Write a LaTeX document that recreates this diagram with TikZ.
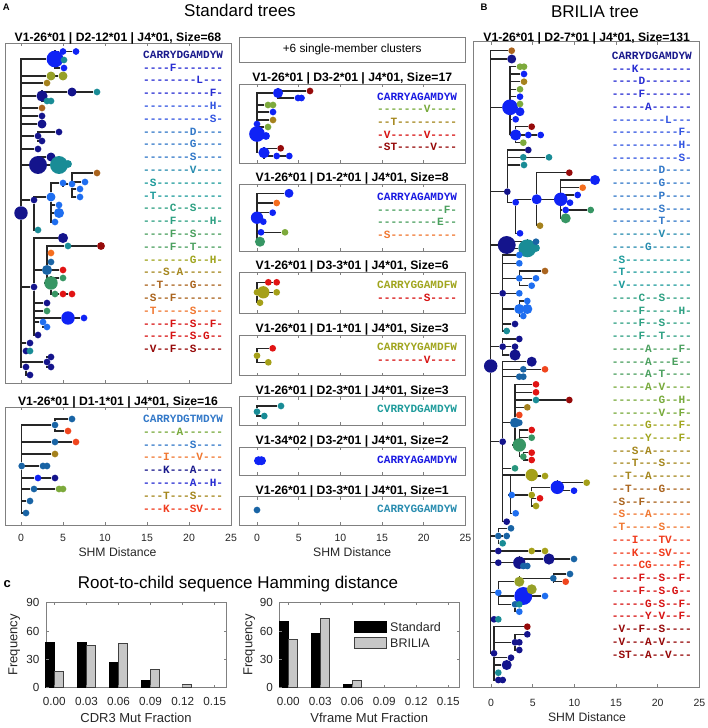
\documentclass[tikz,border=0pt]{standalone}
\usepackage{fontspec}
\setmainfont{Liberation Sans}
\setmonofont{Liberation Mono}
\usetikzlibrary{backgrounds}

% dot colours
\definecolor{cNavy}{RGB}{20,20,140}
\definecolor{cBlue}{RGB}{15,35,245}
\definecolor{cLblue}{RGB}{30,110,240}
\definecolor{cSteel}{RGB}{25,100,165}
\definecolor{cTeal}{RGB}{25,140,150}
\definecolor{cTealg}{RGB}{40,150,125}
\definecolor{cGreen}{RGB}{55,150,100}
\definecolor{cYgreen}{RGB}{125,170,60}
\definecolor{cOliveg}{RGB}{150,160,40}
\definecolor{cOlive}{RGB}{165,160,25}
\definecolor{cGold}{RGB}{165,130,30}
\definecolor{cBrown}{RGB}{170,100,30}
\definecolor{cOrange}{RGB}{245,110,30}
\definecolor{cOrred}{RGB}{240,70,30}
\definecolor{cRed}{RGB}{225,20,20}
\definecolor{cDred}{RGB}{150,10,10}
% sequence colours
\definecolor{t1}{RGB}{25,25,140}
\definecolor{tb}{RGB}{25,25,225}
\definecolor{t2}{RGB}{40,45,210}
\definecolor{t3}{RGB}{50,85,225}
\definecolor{t4}{RGB}{50,120,200}
\definecolor{t5}{RGB}{40,140,175}
\definecolor{t6}{RGB}{30,155,155}
\definecolor{t7}{RGB}{45,160,130}
\definecolor{t8}{RGB}{75,160,95}
\definecolor{t9}{RGB}{120,170,60}
\definecolor{t10}{RGB}{160,165,30}
\definecolor{t11}{RGB}{165,135,30}
\definecolor{t12}{RGB}{170,100,30}
\definecolor{t13}{RGB}{240,120,50}
\definecolor{t14}{RGB}{240,60,30}
\definecolor{t15}{RGB}{215,20,20}
\definecolor{t16}{RGB}{150,10,10}

\begin{document}
\begin{tikzpicture}[
    x=1pt, y=-1pt,
    panel/.style={draw=black!50, line width=0.7pt},
    hdr/.style={anchor=base, inner sep=0pt, font=\fontsize{12.2}{14}\selectfont\bfseries},
    seqtxt/.style={anchor=base west, inner sep=0pt, font=\fontsize{11.1}{13}\selectfont\ttfamily\bfseries},
    dot/.style={circle, inner sep=0pt, minimum size=#1*1.12},
    link/.style={draw=black!85, line width=1.1pt},
    ticklbl/.style={anchor=base, inner sep=0pt, font=\fontsize{10.5}{12}\selectfont, text=black!85},
    axlbl/.style={anchor=base, inner sep=0pt, font=\fontsize{12.2}{14}\selectfont, text=black!85},
    hticklbl/.style={anchor=base, inner sep=0pt, font=\fontsize{11.7}{13}\selectfont, text=black!85},
    hlbl/.style={anchor=base, inner sep=0pt, font=\fontsize{13}{15}\selectfont, text=black!85},
    ttl/.style={anchor=base, inner sep=0pt, font=\fontsize{17}{20}\selectfont},
    letter/.style={anchor=base west, inner sep=0pt, font=\fontsize{9.5}{11}\selectfont\bfseries},
    barstd/.style={fill=black, draw=black, line width=0.5pt},
    barbri/.style={fill=black!22, draw=black!75, line width=0.5pt}
]
\useasboundingbox (0,0) rectangle (708,728);

% Panel letters and titles
\node[letter] (lbl-a) at (2.7,10.7) {A};
\node[letter] (lbl-b) at (480.5,10) {B};
\node[letter, font=\fontsize{13}{15}\selectfont\bfseries] (lbl-c) at (3.5,587.3) {c};
\node[ttl] (ttl-std) at (240,16.7) {Standard trees};
\node[ttl] (ttl-bri) at (595,17.3) {BRILIA tree};
\node[ttl] (ttl-ham) at (238,588.3) {Root-to-child sequence Hamming distance};

% Tree boxes with ticks
\foreach \lft/\tp/\rt/\bt/\zr/\st in {5/43.3/231/383/21/42, 5/407.3/231/525/21/42,
    239/84.3/465.5/163/257/41.67, 239/184.3/465.5/251/257/41.67, 239/272.3/465.5/313.3/257/41.67,
    239/335/465.5/375.7/257/41.67, 239/396.7/465.5/425/257/41.67, 239/447.3/465.5/475/257/41.67,
    239/496.7/465.5/525/257/41.67, 473.3/41.7/699.3/687.3/491/41.67}
{
    \draw[panel] (\lft,\tp) rectangle (\rt,\bt);
    \foreach \k in {0,...,4}
    {
        \draw[panel] ({\zr+\st*\k},\tp) -- ++(0,3);
        \draw[panel] ({\zr+\st*\k},\bt) -- ++(0,-3);
    }
}
\node[draw=black!50, line width=0.7pt, minimum width=226.5, minimum height=25,
    font=\fontsize{11.8}{13}\selectfont] (singles) at (352.2,49.8) {+6 single-member clusters};

% Tree headers
\node[hdr] (hd-a1) at (118,41.3) {V1-26*01 | D2-12*01 | J4*01, Size=68};
\node[hdr] (hd-a2) at (118,405) {V1-26*01 | D1-1*01 | J4*01, Size=16};
\node[hdr] (hd-m1) at (352.2,81.7) {V1-26*01 | D3-2*01 | J4*01, Size=17};
\node[hdr] (hd-m2) at (352.2,181.7) {V1-26*01 | D1-2*01 | J4*01, Size=8};
\node[hdr] (hd-m3) at (352.2,269.7) {V1-26*01 | D3-3*01 | J4*01, Size=6};
\node[hdr] (hd-m4) at (352.2,332.3) {V1-26*01 | D1-1*01 | J4*01, Size=3};
\node[hdr] (hd-m5) at (352.2,394.3) {V1-26*01 | D2-3*01 | J4*01, Size=3};
\node[hdr] (hd-m6) at (352.2,444) {V1-34*02 | D3-2*01 | J4*01, Size=2};
\node[hdr] (hd-m7) at (352.2,494) {V1-26*01 | D3-3*01 | J4*01, Size=1};
\node[hdr] (hd-b) at (586.7,41.3) {V1-26*01 | D2-7*01 | J4*01, Size=131};

% Axis tick labels and axis names
\foreach \zr/\st/\yb/\nm in {21/42/541.7/a, 257/41.67/541.7/m, 491/41.67/706.7/b}
    \foreach \v [count=\k from 0] in {0,5,10,15,20,25}
        \node[ticklbl] (tk-\nm\k) at ({\zr+\st*\k},\yb) {\v};
\node[axlbl] (shm-a) at (117.5,556.7) {SHM Distance};
\node[axlbl] (shm-m) at (352.2,556.7) {SHM Distance};
\node[axlbl] (shm-b) at (587,721.7) {SHM Distance};

% Sequences, standard tree Size=68
\foreach \s/\c [count=\i from 0] in {CARRYDGAMDYW/t1, ----F-------/t2, --------L---/t2,
    ----------F-/t2, ----------H-/t3, ----------S-/t3, -------D----/t4, -------G----/t4,
    -------S----/t4, -------V----/t5, -S----------/t6, -T----------/t6, ----C--S----/t7,
    ----F-----H-/t7, ----F--S----/t8, ----F--T----/t8, -------G--H-/t10, ---S-A------/t11,
    --T----G----/t12, -S--F-------/t12, -T-----S----/t13, ----F--S--F-/t15,
    ----F--S-G--/t15, -V--F--S----/t16}
    \node[seqtxt, text=\c] (sqa\i) at (143,{58.3+12.8*\i}) {\s};

% Sequences, standard tree Size=16
\foreach \s/\c [count=\i from 0] in {CARRYDGTMDYW/t4, -----A------/t9, -------S----/t4,
    ---I----V---/t13, ---K---A----/t1, -------A--H-/t2, ---T---S----/t11, ---K---SV---/t14}
    \node[seqtxt, text=\c] (sqb\i) at (143,{422.3+12.86*\i}) {\s};

% Sequences, small clusters
\foreach \s/\c [count=\i from 0] in {CARRYAGAMDYW/tb, -------V----/t9, --T---------/t11,
    -V-----V----/t15, -ST-----V---/t16}
    \node[seqtxt, text=\c] (sqc\i) at (377,{100+12.7*\i}) {\s};
\foreach \s/\c [count=\i from 0] in {CARRYAGAMDYW/tb, ----------F-/t8, ---------E--/t8,
    -S----------/t13}
    \node[seqtxt, text=\c] (sqd\i) at (377,{200.3+12.7*\i}) {\s};
\node[seqtxt, text=t10] (sqe0) at (377,288.3) {CARRYGGAMDFW};
\node[seqtxt, text=t15] (sqe1) at (377,301) {-------S----};
\node[seqtxt, text=t10] (sqf0) at (377,350.6) {CARRYYGAMDFW};
\node[seqtxt, text=t15] (sqf1) at (377,363.3) {-------V----};
\node[seqtxt, text=t6] (sqg0) at (377,412.6) {CVRRYDGAMDYW};
\node[seqtxt, text=tb] (sqh0) at (377,463.3) {CARRYAGAMDYW};
\node[seqtxt, text=t5] (sqk0) at (377,512.3) {CARRYGGAMDYW};

% Sequences, BRILIA tree
\foreach \s/\c [count=\i from 0] in {CARRYDGAMDYW/t1, ---K--------/t2, ----D-------/t2,
    ----F-------/t2, -----A------/t2, --------L---/t3, ----------F-/t3, ----------H-/t3,
    ----------S-/t3, -------D----/t4, -------G----/t4, -------P----/t4, -------S----/t4,
    -------T----/t4, -------V----/t5, -----G------/t5, -S----------/t6, -T----------/t6,
    -V----------/t6, ----C--S----/t7, ----F-----H-/t7, ----F--S----/t7, ----F--T----/t7,
    -----A----F-/t8, -----A---E--/t8, -----A-T----/t8, -----A-V----/t9, -------G--H-/t9,
    -------V--F-/t9, -----G----F-/t10, -----Y----F-/t10, ---S-A------/t11, ---T---S----/t11,
    --T--A------/t11, --T----G----/t12, -S--F-------/t12, -S---A------/t13, -T-----S----/t13,
    ---I---TV---/t14, ---K---SV---/t14, ----CG----F-/t14, ----F--S--F-/t15, ----F--S-G--/t15,
    -----G-S--F-/t15, -----Y-V--F-/t15, -V--F--S----/t16, -V---A-V----/t16, -ST--A--V---/t16}
    \node[seqtxt, text=\c] (sqp\i) at (611.7,{59.3+12.74*\i}) {\s};

% Standard tree Size=68
\node[dot=12, fill=cNavy] (ar) at (21,213) {};
\node[dot=15, fill=cBlue] (a1) at (55,59) {};
\node[dot=6, fill=cBlue] (a2) at (63,51.5) {};
\node[dot=6, fill=cBlue] (a3) at (76,51.5) {};
\node[dot=6, fill=cTeal] (a4) at (64,60) {};
\node[dot=6, fill=cBlue] (a5) at (64,68) {};
\node[dot=8, fill=cOliveg] (a6) at (51,76) {};
\node[dot=8, fill=cOliveg] (a7) at (63,76) {};
\node[dot=6, fill=cGold] (a8) at (47,83) {};
\node[dot=10, fill=cNavy] (a9) at (42,96) {};
\node[dot=8, fill=cNavy] (a10) at (72,92) {};
\node[dot=6, fill=cTeal] (a11) at (97,92) {};
\node[dot=6, fill=cTeal] (a12) at (47,101) {};
\node[dot=6, fill=cTeal] (a13) at (51,101) {};
\node[dot=6, fill=cBrown] (a14) at (42,108) {};
\node[dot=6, fill=cNavy] (a15) at (42,116) {};
\node[dot=8, fill=cNavy] (a16) at (42,124) {};
\node[dot=6, fill=cNavy] (a17) at (38,136) {};
\node[dot=6, fill=cNavy] (a18) at (59,132) {};
\node[dot=6, fill=cNavy] (a19) at (42,141) {};
\node[dot=6, fill=cNavy] (a20) at (38,149) {};
\node[dot=16, fill=cNavy] (a21) at (38,165) {};
\node[dot=8, fill=cNavy] (a22) at (51,157) {};
\node[dot=16, fill=cTeal] (a23) at (59,165) {};
\node[dot=7, fill=cTeal] (a24) at (68,164) {};
\node[dot=6, fill=cNavy] (a25) at (34,200) {};
\node[dot=8, fill=cLblue] (a26) at (51,197) {};
\node[dot=6, fill=cLblue] (a27) at (63,183) {};
\node[dot=6, fill=cLblue] (a28) at (72,184) {};
\node[dot=6, fill=cLblue] (a29) at (85,182) {};
\node[dot=6, fill=cBrown] (a30) at (97,173) {};
\node[dot=6, fill=cLblue] (a31) at (80,189) {};
\node[dot=6, fill=cLblue] (a32) at (80,197) {};
\node[dot=6, fill=cLblue] (a33) at (59,205) {};
\node[dot=9, fill=cLblue] (a34) at (59,213) {};
\node[dot=6, fill=cLblue] (a35) at (55,222) {};
\node[dot=6, fill=cTeal] (a36) at (38,230) {};
\node[dot=6, fill=cNavy] (a37) at (34,287) {};
\node[dot=9, fill=cNavy] (a38) at (63,238) {};
\node[dot=9, fill=cSteel] (a39) at (47,270) {};
\node[dot=6, fill=cTeal] (a40) at (68,246) {};
\node[dot=7, fill=cDred] (a41) at (101,246) {};
\node[dot=6, fill=cOrange] (a42) at (51,253) {};
\node[dot=6, fill=cSteel] (a43) at (51,262) {};
\node[dot=6, fill=cRed] (a44) at (63,270) {};
\node[dot=12, fill=cGreen] (a45) at (51,283) {};
\node[dot=6, fill=cGreen] (a46) at (63,278) {};
\node[dot=6, fill=cGreen] (a47) at (55,294) {};
\node[dot=6, fill=cRed] (a48) at (63,294) {};
\node[dot=6, fill=cRed] (a49) at (72,294) {};
\node[dot=6, fill=cNavy] (a50) at (47,303) {};
\node[dot=6, fill=cGreen] (a51) at (47,311) {};
\node[dot=12, fill=cBlue] (a52) at (68,318) {};
\node[dot=6, fill=cBlue] (a53) at (84,318) {};
\node[dot=6, fill=cLblue] (a54) at (43,322) {};
\node[dot=6, fill=cLblue] (a55) at (47,327) {};
\node[dot=6, fill=cNavy] (a56) at (38,335) {};
\node[dot=6, fill=cNavy] (a57) at (30,343) {};
\node[dot=6, fill=cNavy] (a58) at (26,351) {};
\node[dot=6, fill=cTeal] (a59) at (30,351) {};
\node[dot=6, fill=cNavy] (a60) at (47,362) {};
\node[dot=6, fill=cNavy] (a61) at (51,357) {};
\node[dot=6, fill=cNavy] (a62) at (51,367) {};
\node[dot=6, fill=cNavy] (a63) at (26,367) {};
\node[dot=6, fill=cNavy] (a64) at (30,375) {};

% Standard tree Size=16
\node[dot=6, fill=cSteel] (br) at (21.7,466) {};
\node[dot=6, fill=cSteel] (b1) at (55,425) {};
\node[dot=6, fill=cSteel] (b2) at (72,419) {};
\node[dot=6, fill=cOrred] (b3) at (68,431) {};
\node[dot=6, fill=cSteel] (b4) at (55,442) {};
\node[dot=6, fill=cOrred] (b5) at (76,442) {};
\node[dot=6, fill=cGold] (b6) at (55,454) {};
\node[dot=6, fill=cSteel] (b7) at (43,466) {};
\node[dot=6, fill=cSteel] (b8) at (47,466) {};
\node[dot=6, fill=cBlue] (b9) at (38,478) {};
\node[dot=6, fill=cNavy] (b10) at (55,478) {};
\node[dot=6, fill=cSteel] (b11) at (34,489) {};
\node[dot=6, fill=cYgreen] (b12) at (59,489) {};
\node[dot=6, fill=cYgreen] (b13) at (63,489) {};
\node[dot=6, fill=cSteel] (b14) at (30,501) {};
\node[dot=6, fill=cSteel] (b15) at (26,513) {};

% Small cluster trees
\node[dot=14, fill=cBlue] (cr) at (257,134) {};
\node[dot=9, fill=cBlue] (c1) at (278,93) {};
\node[dot=6, fill=cDred] (c2) at (310,91) {};
\node[dot=6, fill=cBlue] (c3) at (298,98) {};
\node[dot=6, fill=cBlue] (c4) at (301.5,98) {};
\node[dot=6, fill=cYgreen] (c5) at (268,105) {};
\node[dot=6, fill=cYgreen] (c6) at (273,105) {};
\node[dot=6, fill=cBlue] (c7) at (273,112) {};
\node[dot=6, fill=cGold] (c8) at (273,120) {};
\node[dot=6, fill=cBlue] (c9) at (257,124) {};
\node[dot=6, fill=cYgreen] (c10) at (268,127) {};
\node[dot=7, fill=cBlue] (c11) at (266,136) {};
\node[dot=10, fill=cBlue] (c12) at (264,152.7) {};
\node[dot=6, fill=cDred] (c13) at (280.7,148.3) {};
\node[dot=6, fill=cBlue] (c14) at (276.7,156) {};
\node[dot=6, fill=cBlue] (c15) at (289.3,156) {};

\node[dot=11, fill=cBlue] (dr) at (257,217.7) {};
\node[dot=8, fill=cBlue] (d1) at (289,193.3) {};
\node[dot=6, fill=cOrange] (d2) at (276.7,203) {};
\node[dot=6, fill=cBlue] (d3) at (272.7,212.7) {};
\node[dot=6, fill=cBlue] (d4) at (263.3,221.7) {};
\node[dot=6, fill=cBlue] (d5) at (261,232.3) {};
\node[dot=6, fill=cYgreen] (d6) at (285,232.3) {};
\node[dot=9, fill=cGreen] (d7) at (260,241.7) {};

\node[dot=6, fill=cOlive] (e0) at (257,292.3) {};
\node[dot=11, fill=cOlive] (e1) at (263.3,292.3) {};
\node[dot=6, fill=cOlive] (e2) at (276.7,292.3) {};
\node[dot=6, fill=cRed] (e3) at (268.3,282.3) {};
\node[dot=6, fill=cRed] (e4) at (276.7,282.3) {};
\node[dot=6, fill=cOlive] (e5) at (260,302.7) {};

\node[dot=6, fill=cOlive] (f0) at (257,355.7) {};
\node[dot=6, fill=cRed] (f1) at (272.7,348.3) {};
\node[dot=6, fill=cOlive] (f2) at (268.3,362.3) {};

\node[dot=6, fill=cTeal] (g0) at (257,411.7) {};
\node[dot=6, fill=cTeal] (g1) at (281,406) {};
\node[dot=6, fill=cTeal] (g2) at (264.3,416) {};

\node[dot=8, fill=cBlue] (h0) at (258.5,460.7) {};
\node[dot=8, fill=cBlue] (h1) at (261.5,460.7) {};

\node[dot=6, fill=cSteel] (k0) at (257,510) {};

% BRILIA tree
\node[dot=12, fill=cNavy] (pr) at (490.7,366) {};
\node[dot=6, fill=cBrown] (p1) at (511.7,50.7) {};
\node[dot=8, fill=cNavy] (p2) at (511.7,59) {};
\node[dot=14, fill=cBlue] (p3) at (510,107.3) {};
\node[dot=6, fill=cYgreen] (p4) at (520,66.7) {};
\node[dot=6, fill=cYgreen] (p5) at (524,66.7) {};
\node[dot=6, fill=cBlue] (p6) at (524,74) {};
\node[dot=6, fill=cGold] (p7) at (524,81.7) {};
\node[dot=6, fill=cYgreen] (p8) at (520,89.3) {};
\node[dot=6, fill=cBlue] (p9) at (520,96.7) {};
\node[dot=6, fill=cYgreen] (p10) at (520,104) {};
\node[dot=8, fill=cBlue] (p11) at (520,111.7) {};
\node[dot=6, fill=cBlue] (p12) at (515.7,119.3) {};
\node[dot=10, fill=cBlue] (p13) at (515.7,135) {};
\node[dot=6, fill=cDred] (p14) at (531.7,126.7) {};
\node[dot=6, fill=cBlue] (p15) at (528.3,135) {};
\node[dot=6, fill=cBlue] (p16) at (540.7,135) {};
\node[dot=6, fill=cYgreen] (p17) at (523.3,142.7) {};
\node[dot=6, fill=cNavy] (p18) at (507.3,191.7) {};
\node[dot=6, fill=cNavy] (p19) at (528.3,150) {};
\node[dot=6, fill=cTeal] (p20) at (523.3,157.3) {};
\node[dot=6, fill=cTeal] (p21) at (549,157.3) {};
\node[dot=6, fill=cTeal] (p22) at (524,165) {};
\node[dot=6, fill=cBlue] (p23) at (515.7,202.3) {};
\node[dot=6, fill=cBlue] (p24) at (520,233.3) {};
\node[dot=9, fill=cBlue] (p25) at (536.7,199.3) {};
\node[dot=6, fill=cDred] (p26) at (569.3,172.7) {};
\node[dot=6, fill=cGold] (p27) at (540,225.7) {};
\node[dot=12, fill=cBlue] (p28) at (560.7,199.3) {};
\node[dot=9, fill=cBlue] (p29) at (595,180) {};
\node[dot=6, fill=cOrange] (p30) at (582.7,187.7) {};
\node[dot=6, fill=cBlue] (p31) at (577.7,195) {};
\node[dot=6, fill=cBlue] (p32) at (570,202.7) {};
\node[dot=6, fill=cBlue] (p33) at (565.7,210) {};
\node[dot=6, fill=cGreen] (p34) at (590.7,210) {};
\node[dot=9, fill=cGreen] (p35) at (565.7,218.3) {};
\node[dot=16, fill=cNavy] (p36) at (506.7,245) {};
\node[dot=16, fill=cTeal] (p37) at (527.3,248.3) {};
\node[dot=7, fill=cTeal] (p38) at (536,248) {};
\node[dot=6, fill=cSteel] (p39) at (536,241.7) {};
\node[dot=6, fill=cNavy] (p40) at (502.7,293.3) {};
\node[dot=6, fill=cLblue] (p41) at (519.3,255) {};
\node[dot=6, fill=cLblue] (p42) at (519.3,263.3) {};
\node[dot=6, fill=cLblue] (p43) at (519.3,278.3) {};
\node[dot=6, fill=cBrown] (p44) at (545,271) {};
\node[dot=6, fill=cLblue] (p45) at (536,278.3) {};
\node[dot=6, fill=cLblue] (p46) at (531.7,285.7) {};
\node[dot=6, fill=cLblue] (p47) at (519.3,293.3) {};
\node[dot=9, fill=cLblue] (p48) at (519.3,309) {};
\node[dot=9, fill=cLblue] (p49) at (527.3,309) {};
\node[dot=6, fill=cLblue] (p50) at (527.3,301) {};
\node[dot=6, fill=cLblue] (p51) at (523.3,316) {};
\node[dot=6, fill=cNavy] (p52) at (515,324) {};
\node[dot=6, fill=cTeal] (p53) at (506.7,331) {};
\node[dot=6, fill=cNavy] (p54) at (502.7,346.7) {};
\node[dot=6, fill=cNavy] (p55) at (519.3,339) {};
\node[dot=6, fill=cNavy] (p56) at (515,346.7) {};
\node[dot=10, fill=cNavy] (p57) at (515,355) {};
\node[dot=6, fill=cNavy] (p58) at (502.7,441.7) {};
\node[dot=9, fill=cNavy] (p59) at (531.7,361.7) {};
\node[dot=6, fill=cSteel] (p60) at (523.3,369.3) {};
\node[dot=6, fill=cOrred] (p61) at (545,369.3) {};
\node[dot=6, fill=cSteel] (p62) at (519.3,376.7) {};
\node[dot=6, fill=cSteel] (p63) at (523.3,376.7) {};
\node[dot=9, fill=cSteel] (p64) at (515,422.7) {};
\node[dot=6, fill=cRed] (p65) at (536,384.3) {};
\node[dot=6, fill=cRed] (p66) at (536,392.3) {};
\node[dot=6, fill=cTeal] (p67) at (536,400) {};
\node[dot=6, fill=cDred] (p68) at (569.3,400) {};
\node[dot=6, fill=cGold] (p69) at (527.3,407.3) {};
\node[dot=6, fill=cOrred] (p70) at (519.3,415) {};
\node[dot=6, fill=cSteel] (p71) at (519.3,422.7) {};
\node[dot=12, fill=cGreen] (p72) at (519.3,445) {};
\node[dot=6, fill=cRed] (p73) at (531.7,430) {};
\node[dot=6, fill=cGreen] (p74) at (531.7,437.7) {};
\node[dot=6, fill=cGreen] (p75) at (523.3,456.7) {};
\node[dot=6, fill=cRed] (p76) at (531.7,452.7) {};
\node[dot=6, fill=cRed] (p77) at (531.7,460) {};
\node[dot=6, fill=cTealg] (p78) at (515,468.3) {};
\coordinate (q1) at (510.7,475);
\node[dot=11, fill=cOlive] (p80) at (531.7,475) {};
\node[dot=6, fill=cOlive] (p81) at (545,476) {};
\node[dot=6, fill=cOlive] (p82) at (531.7,495) {};
\node[dot=6, fill=cLblue] (p83) at (511.7,495) {};
\node[dot=12, fill=cBlue] (p84) at (557.3,487.3) {};
\node[dot=6, fill=cOlive] (p85) at (586.7,482.7) {};
\node[dot=6, fill=cBlue] (p86) at (574,490.7) {};
\node[dot=6, fill=cRed] (p87) at (540,498.3) {};
\node[dot=6, fill=cOlive] (p88) at (536,506) {};
\node[dot=6, fill=cLblue] (p89) at (515.7,513.3) {};
\node[dot=6, fill=cNavy] (p90) at (506.7,521.7) {};
\node[dot=6, fill=cSteel] (p91) at (498.3,536) {};
\node[dot=6, fill=cSteel] (p92) at (506.7,536) {};
\node[dot=6, fill=cSteel] (p93) at (511,528.3) {};
\node[dot=6, fill=cTeal] (p94) at (502.7,543.3) {};
\node[dot=6, fill=cNavy] (p95) at (498.3,551) {};
\node[dot=6, fill=cOlive] (p96) at (531.7,551) {};
\node[dot=6, fill=cOlive] (p97) at (545,551) {};
\node[dot=6, fill=cNavy] (p98) at (498.3,562.7) {};
\node[dot=11, fill=cNavy] (p99) at (519.3,562.7) {};
\node[dot=6, fill=cSteel] (p100) at (523.3,566) {};
\node[dot=6, fill=cSteel] (p101) at (527.3,566) {};
\node[dot=10, fill=cNavy] (p102) at (549,559) {};
\node[dot=6, fill=cSteel] (p103) at (574,559) {};
\node[dot=6, fill=cLblue] (p104) at (498.3,592.7) {};
\node[dot=9, fill=cOliveg] (p105) at (519.3,581.7) {};
\node[dot=6, fill=cSteel] (p106) at (553.3,578.3) {};
\node[dot=6, fill=cSteel] (p107) at (570,574) {};
\node[dot=6, fill=cOrred] (p108) at (565.7,581.7) {};
\node[dot=16, fill=cBlue] (p109) at (523.3,596) {};
\node[dot=9, fill=cOliveg] (p110) at (531.7,589.3) {};
\node[dot=6, fill=cLblue] (p111) at (545,596) {};
\node[dot=6, fill=cSteel] (p112) at (515,604.3) {};
\node[dot=6, fill=cTeal] (p113) at (519.3,604.3) {};
\node[dot=6, fill=cLblue] (p114) at (519.3,611.7) {};
\node[dot=6, fill=cNavy] (p115) at (494,619.3) {};
\node[dot=6, fill=cTeal] (p116) at (498.3,619.3) {};
\node[dot=6, fill=cNavy] (p117) at (494,653.3) {};
\node[dot=6, fill=cDred] (p118) at (527.3,626.7) {};
\node[dot=6, fill=cNavy] (p119) at (527.3,634.3) {};
\node[dot=6, fill=cNavy] (p120) at (515,642.3) {};
\node[dot=6, fill=cNavy] (p121) at (519.3,642.3) {};
\node[dot=6, fill=cNavy] (p122) at (519.3,650) {};
\node[dot=6, fill=cNavy] (p123) at (511,657.7) {};
\node[dot=9, fill=cNavy] (p124) at (506.7,665) {};
\node[dot=6, fill=cTeal] (p125) at (498.3,672.7) {};
\node[dot=6, fill=cNavy] (p126) at (498.3,680) {};
\node[dot=6, fill=cNavy] (p127) at (502.7,680) {};

% Tree branches
\begin{scope}[on background layer]
\foreach \p/\c in {ar/a1, a1/a2, a2/a3, a1/a4, a1/a5, ar/a6, a6/a7, ar/a8, ar/a9, a9/a10,
    a10/a11, a9/a12, a9/a13, ar/a14, ar/a15, ar/a16, ar/a17, a17/a18, a17/a19, ar/a20,
    ar/a21, a21/a22, a21/a23, a23/a24, ar/a25, a25/a26, a26/a27, a27/a28, a28/a29, a28/a30,
    a28/a31, a28/a32, a26/a33, a26/a34, a26/a35, a25/a36, ar/a37, a37/a38, a37/a39, a39/a40,
    a40/a41, a39/a42, a39/a43, a39/a44, a39/a45, a45/a46, a45/a47, a47/a48, a48/a49, a37/a50,
    a37/a51, a37/a52, a52/a53, a37/a54, a54/a55, a37/a56, ar/a57, ar/a58, a58/a59, ar/a60,
    a60/a61, a60/a62, ar/a63, a63/a64}
    \draw[link] (\p) |- (\c);
\foreach \p/\c in {br/b1, b1/b2, b1/b3, br/b4, b4/b5, br/b6, br/b7, b7/b8, br/b9, b9/b10,
    br/b11, b11/b12, b12/b13, br/b14, br/b15}
    \draw[link] (\p) |- (\c);
\foreach \p/\c in {cr/c1, c1/c2, c1/c3, c3/c4, cr/c5, c5/c6, cr/c7, cr/c8, cr/c9, cr/c10,
    cr/c11, cr/c12, c12/c13, c12/c14, c14/c15, dr/d1, dr/d2, dr/d3, dr/d4, dr/d5, d5/d6,
    dr/d7, e0/e1, e1/e2, e0/e3, e3/e4, e0/e5, f0/f1, f0/f2, g0/g1, g0/g2, h0/h1}
    \draw[link] (\p) |- (\c);
\foreach \p/\c in {pr/p1, pr/p2, pr/p3, p3/p4, p4/p5, p3/p6, p3/p7, p3/p8, p3/p9, p3/p10,
    p3/p11, p3/p12, p3/p13, p13/p14, p13/p15, p15/p16, p13/p17, pr/p18, p18/p19, p18/p20,
    p20/p21, p18/p22, p18/p23, p23/p24, p23/p25, p25/p26, p25/p27, p25/p28, p28/p29,
    p28/p30, p28/p31, p28/p32, p28/p33, p33/p34, p28/p35, pr/p36, p36/p37, p37/p38, p36/p39,
    pr/p40, p40/p41, p40/p42, p40/p43, p43/p44, p43/p45, p43/p46, p40/p47, p40/p48, p48/p49,
    p48/p50, p48/p51, p40/p52, p40/p53, pr/p54, p54/p55, p54/p56, p54/p57, pr/p58, p58/p59,
    p58/p60, p60/p61, p58/p62, p62/p63, p58/p64, p64/p65, p64/p66, p64/p67, p67/p68,
    p64/p69, p64/p70, p64/p71, p64/p72, p72/p73, p72/p74, p72/p75, p75/p76, p75/p77,
    p58/p78, p58/q1, q1/p80, p80/p81, q1/p83, p83/p82, p82/p84, p84/p85, p84/p86, p82/p87,
    p82/p88, q1/p89, p58/p90, pr/p91, p91/p92, p91/p93, p91/p94, pr/p95, p95/p96, p96/p97,
    pr/p98, p98/p99, p99/p100, p100/p101, p99/p102, p102/p103, pr/p104, p104/p105,
    p105/p106, p106/p107, p106/p108, p104/p109, p109/p110, p109/p111, p104/p112, p112/p113,
    p112/p114, pr/p115, p115/p116, pr/p117, p117/p118, p117/p120, p120/p119, p120/p121,
    p120/p122, p117/p123, p117/p124, p117/p125, p117/p126, p126/p127}
    \draw[link] (\p) |- (\c);
\end{scope}

% Histogram: CDR3 mutation fraction
\draw[panel] (46,602.7) rectangle (226,687.3);
\foreach \i/\k/\g in {0/48/17, 1/48/45, 2/27/47, 3/7/19}
{
    \draw[barstd] ({54.3+32.1*\i-9},687.3) rectangle ({54.3+32.1*\i},{687.3-0.94*\k});
    \draw[barbri] ({54.3+32.1*\i},687.3) rectangle ({54.3+32.1*\i+9},{687.3-0.94*\g});
}
\draw[barbri] ({54.3+32.1*4},687.3) rectangle ({54.3+32.1*4+9},{687.3-0.94*3});
\foreach \v [count=\i from 0] in {0.00,0.03,0.06,0.09,0.12,0.15}
{
    \draw[panel] ({54.3+32.1*\i},687.3) -- ++(0,-2.5);
    \draw[panel] ({54.3+32.1*\i},602.7) -- ++(0,2.5);
    \node[hticklbl] (hxa\i) at ({54.3+32.1*\i},705) {\v};
}
\foreach \v [count=\j from 0] in {0,30,60,90}
{
    \draw[panel] (46,{687.3-28.2*\j}) -- ++(2.5,0);
    \draw[panel] (226,{687.3-28.2*\j}) -- ++(-2.5,0);
    \node[hticklbl, anchor=base east] (hya\j) at (39.5,{691.5-28.2*\j}) {\v};
}
\node[hlbl] (xl-cdr) at (136,722) {CDR3 Mut Fraction};
\node[hlbl, rotate=90] (yl-cdr) at (17.3,645) {Frequency};

% Histogram: Vframe mutation fraction
\draw[panel] (279.3,602.7) rectangle (459.3,687.3);
\foreach \i/\k/\g in {0/70/51, 1/57/73, 2/3/7}
{
    \draw[barstd] ({288.3+32*\i-9},687.3) rectangle ({288.3+32*\i},{687.3-0.94*\k});
    \draw[barbri] ({288.3+32*\i},687.3) rectangle ({288.3+32*\i+9},{687.3-0.94*\g});
}
\foreach \v [count=\i from 0] in {0.00,0.03,0.06,0.09,0.12,0.15}
{
    \draw[panel] ({288.3+32*\i},687.3) -- ++(0,-2.5);
    \draw[panel] ({288.3+32*\i},602.7) -- ++(0,2.5);
    \node[hticklbl] (hxb\i) at ({288.3+32*\i},705) {\v};
}
\foreach \v [count=\j from 0] in {0,30,60,90}
{
    \draw[panel] (279.3,{687.3-28.2*\j}) -- ++(2.5,0);
    \draw[panel] (459.3,{687.3-28.2*\j}) -- ++(-2.5,0);
    \node[hticklbl, anchor=base east] (hyb\j) at (273,{691.5-28.2*\j}) {\v};
}
\node[hlbl] (xl-vf) at (369.3,722) {Vframe Mut Fraction};
\node[hlbl, rotate=90] (yl-vf) at (252.3,645) {Frequency};

% Legend
\draw[barstd] (354.3,621) rectangle (386,632.7);
\draw[barbri] (354.3,637) rectangle (386,648.3);
\node[hlbl, anchor=base west, font=\fontsize{12.5}{14}\selectfont] (leg-std) at (390,631.7) {Standard};
\node[hlbl, anchor=base west, font=\fontsize{12.5}{14}\selectfont] (leg-bri) at (390,647.3) {BRILIA};

\end{tikzpicture}
\end{document}
